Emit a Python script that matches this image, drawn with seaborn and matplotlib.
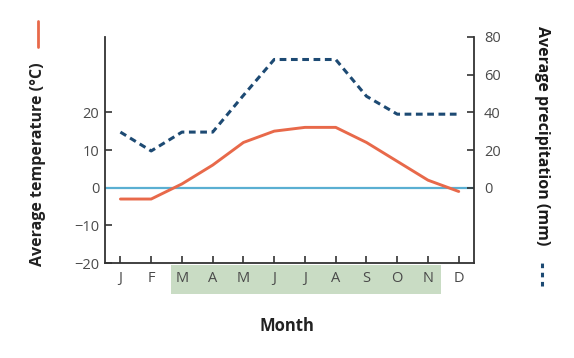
import numpy as np
import pandas as pd
import seaborn as sns
import matplotlib.pyplot as plt
from matplotlib.patches import Rectangle
from matplotlib.lines import Line2D
import matplotlib.transforms as mtransforms

months = ["J", "F", "M", "A", "M", "J", "J", "A", "S", "O", "N", "D"]
temperature = [-3, -3, 1, 6, 12, 15, 16, 16, 12, 7, 2, -1]
precipitation = [29.5, 19.5, 29.5, 29.5, 49, 68, 68, 68, 48.5, 39, 39, 39]
temp_ticks = [-20, -10, 0, 10, 20]
precip_ticks = [0, 20, 40, 60, 80]

df = pd.DataFrame({"month": np.arange(len(months)),
                   "temp": temperature, "precip": precipitation})

sns.set_style("ticks")
plt.rcParams["font.family"] = ["Open Sans", "DejaVu Sans"]

red = "#e8694a"
navy = "#1d4a73"
light_blue = "#5aafd2"
text_grey = "#4a4a4a"

fig = plt.figure(figsize=(5.74, 3.58), dpi=100)
ax = fig.add_axes([0.183, 0.265, 0.643, 0.632])
ax2 = ax.twinx()

ax.axhline(0, color=light_blue, lw=1.6, zorder=1)
sns.lineplot(data=df, x="month", y="temp", ax=ax, color=red, lw=2.1, zorder=3)
sns.lineplot(data=df, x="month", y="precip", ax=ax2, color=navy, lw=2.2,
             dashes=False, zorder=3)
ax2.lines[-1].set_linestyle((0, (2.2, 1.5)))

ax.set_xlim(-0.5, 11.5)
ax.set_ylim(-20, 40)
ax2.set_ylim(-40, 80)
ax.set_yticks(temp_ticks)
ax.set_yticklabels(["\u221220", "\u221210", "0", "10", "20"])
ax2.set_yticks(precip_ticks)
ax.set_xticks(df["month"])
ax.set_xticklabels(months)

for a in (ax, ax2):
    a.spines["top"].set_visible(False)
    for s in a.spines.values():
        s.set_color("#333333")
        s.set_linewidth(1.3)
    a.tick_params(direction="in", length=5, width=1.2, color="#333333",
                  labelsize=10.5, labelcolor=text_grey, pad=4)
ax.spines["right"].set_visible(False)
ax2.spines["left"].set_visible(False)
ax2.spines["bottom"].set_visible(False)
ax.tick_params(axis="x", pad=6)
ax2.tick_params(axis="y", pad=7)

ax.set_xlabel("")
ax.set_ylabel("")
ax2.set_ylabel("")

# green band behind the growing-season month labels
trans = mtransforms.blended_transform_factory(ax.transData, ax.transAxes)
ax.add_patch(Rectangle((1.63, -0.135), 8.8, 0.125, transform=trans,
                       facecolor="#c9dcc4", edgecolor="none",
                       clip_on=False, zorder=0.2))

fig.text(0.5, 0.09, "Month", ha="center", va="center",
         fontsize=12, fontweight="bold", color="#222222")

fig.text(0.066, 0.54, "Average temperature (\u00b0C)", rotation=90,
         ha="center", va="center", fontsize=11.5, fontweight="bold",
         color="#222222")
fig.add_artist(Line2D([0.066, 0.066], [0.87, 0.94], color=red, lw=2,
                      transform=fig.transFigure))

fig.text(0.945, 0.62, "Average precipitation (mm)", rotation=270,
         ha="center", va="center", fontsize=11.5, fontweight="bold",
         color="#1a1a1a")
fig.add_artist(Line2D([0.945, 0.945], [0.2, 0.27], color=navy, lw=2.2,
                      linestyle=(0, (1.5, 1.5)), transform=fig.transFigure))

fig.savefig("out.png", dpi=100, facecolor="white")
